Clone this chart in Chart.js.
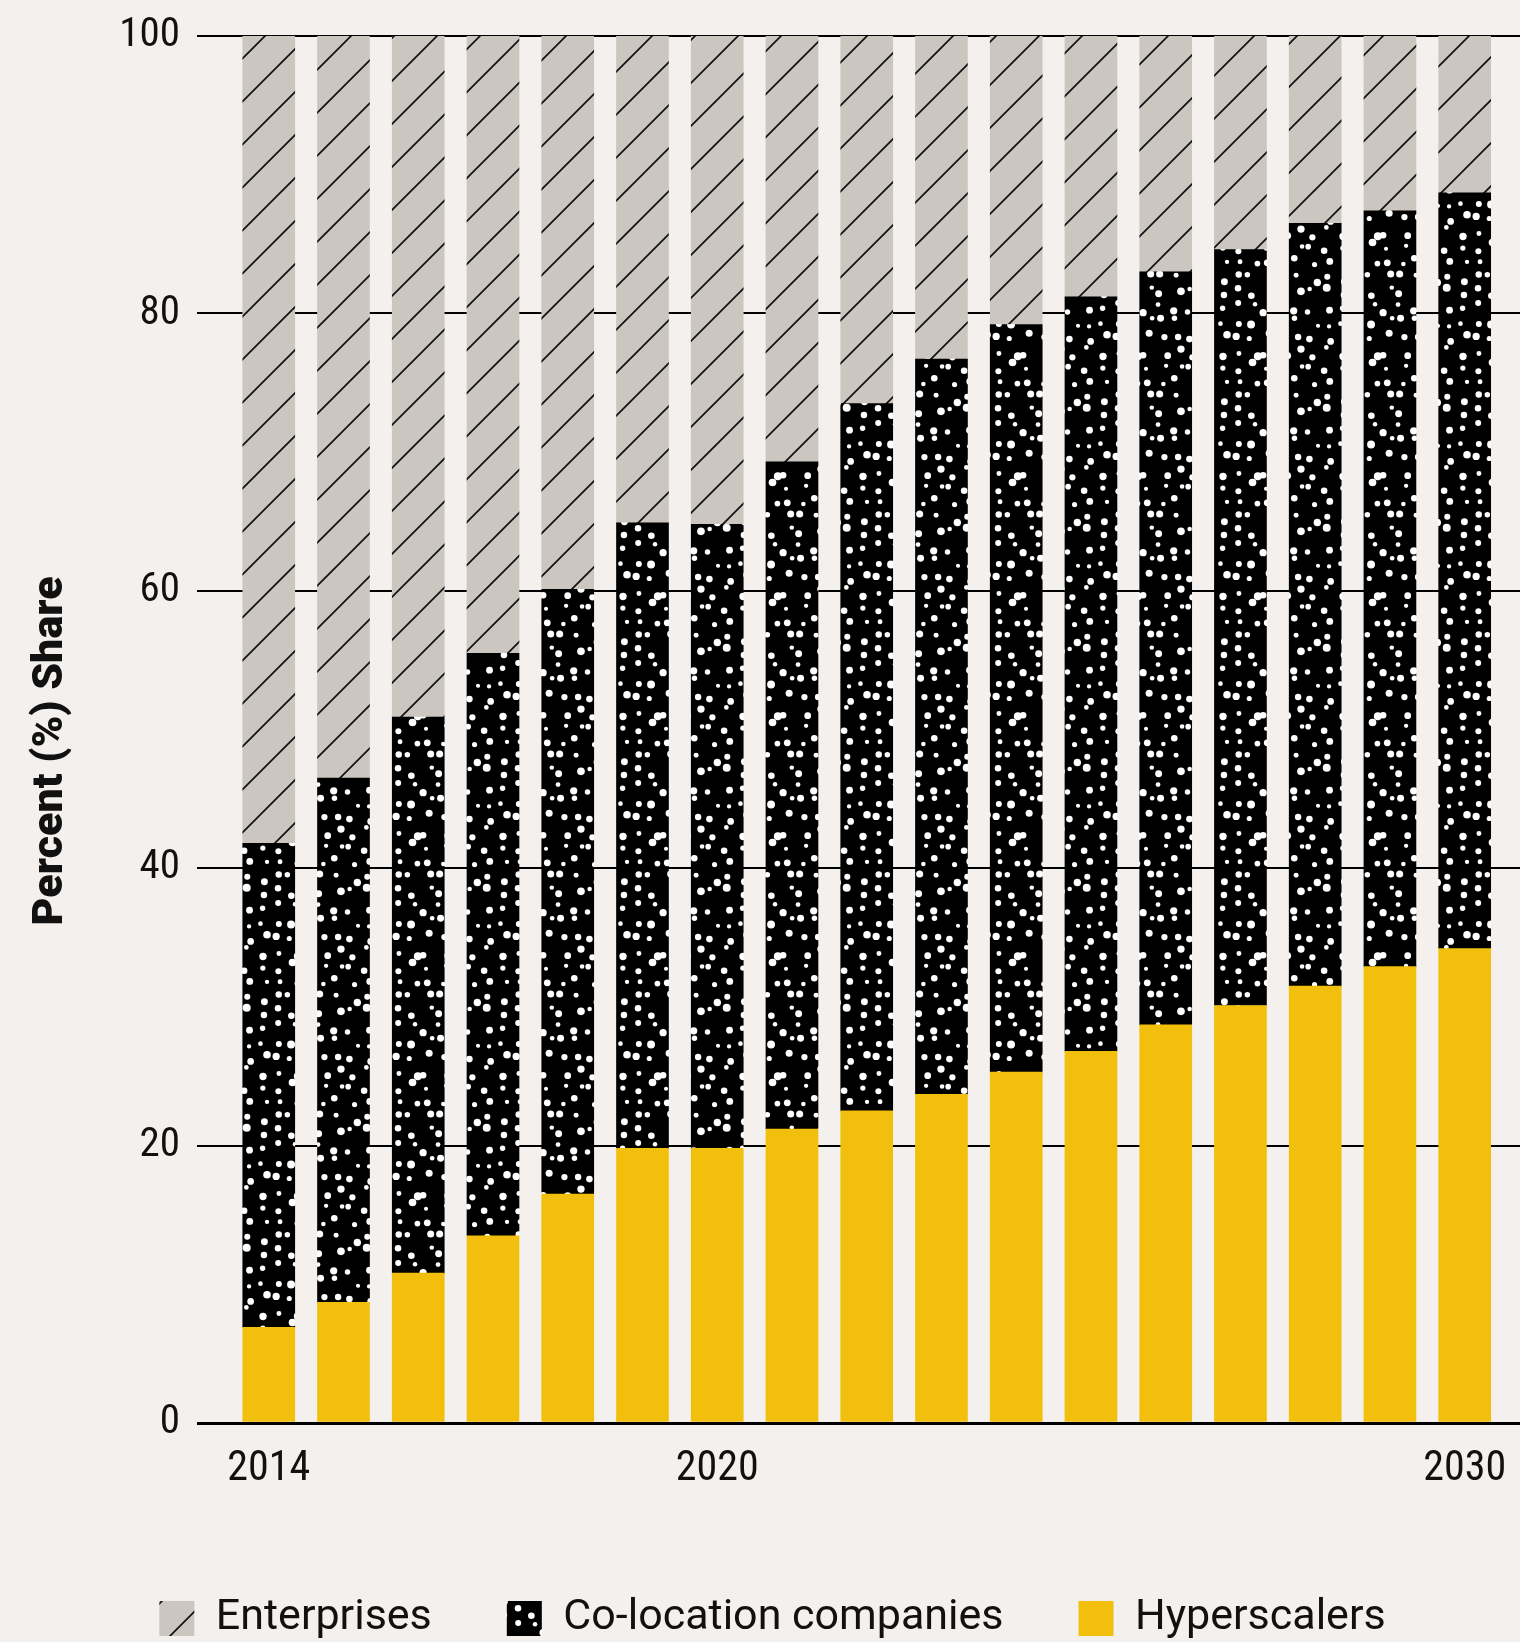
<!DOCTYPE html>
<html>
<head>
<meta charset="utf-8">
<script src="https://cdn.jsdelivr.net/npm/chart.js@4.4.1/dist/chart.umd.min.js"></script>
<style>
  html, body { margin: 0; padding: 0; background: #f3f0ed; }
  #wrap { width: 1520px; height: 1642px; position: relative; }
</style>
</head>
<body>
<div id="wrap"><canvas id="grafico"></canvas></div>
<script>
// datos
const years = [2014, 2015, 2016, 2017, 2018, 2019, 2020, 2021, 2022, 2023, 2024, 2025, 2026, 2027, 2028, 2029, 2030];
const hyperscalers = [6.9, 8.7, 10.8, 13.5, 16.5, 19.8, 19.8, 21.2, 22.5, 23.7, 25.3, 26.8, 28.7, 30.1, 31.5, 32.9, 34.2];
const colocation = [34.9, 37.8, 40.1, 42.0, 43.6, 45.1, 45.0, 48.1, 51.0, 53.0, 53.9, 54.4, 54.3, 54.5, 55.0, 54.5, 54.5];
const enterprises = [58.2, 53.5, 49.1, 44.5, 39.9, 35.1, 35.2, 30.7, 26.5, 23.3, 20.8, 18.8, 17.0, 15.4, 13.5, 12.6, 11.3];
const xTicks = [2014, 2020, 2030];
const yTicks = [0, 20, 40, 60, 80, 100];
const seriesNames = ["Hyperscalers", "Co-location companies", "Enterprises"];

const condensed = "'Roboto Condensed', 'Liberation Sans Narrow', 'DejaVu Sans Condensed', Roboto, sans-serif";

//rayado de Enterprises
const hatch = () => {
  const s = 43;
  const c = document.createElement("canvas");
  c.width = s; c.height = s;
  const g = c.getContext("2d");
  g.fillStyle = "#cbc7c0";
  g.fillRect(0, 0, s, s);
  g.strokeStyle = "#111";
  g.lineWidth = 1.7;
  g.beginPath();
  g.moveTo(-3, s + 3); g.lineTo(s + 3, -3);
  g.moveTo(-3, 3); g.lineTo(3, -3);
  g.moveTo(s - 3, s + 3); g.lineTo(s + 3, s - 3);
  g.stroke();
  return g.createPattern(c, "repeat");
};

//puntos de Co-location (rejilla con desplazamiento)
const dots = () => {
  const s = 120, cell = 15;
  const c = document.createElement("canvas");
  c.width = s; c.height = s;
  const g = c.getContext("2d");
  g.fillStyle = "#000";
  g.fillRect(0, 0, s, s);
  g.fillStyle = "#fff";
  let seed = 24691;
  const next = () => (seed = (seed * 16807) % 2147483647) / 2147483647;
  for (let row = 0; row < s / cell; row++) {
    for (let col = 0; col < s / cell; col++) {
      const x = col * cell + 2 + next() * 11;
      const y = row * cell + 2 + next() * 11;
      const r = 2 + next() * 2;
      for (const dx of [-s, 0, s]) {
        for (const dy of [-s, 0, s]) {
          g.beginPath();
          g.arc(x + dx, y + dy, r, 0, Math.PI * 2);
          g.fill();
        }
      }
    }
  }
  return g.createPattern(c, "repeat");
};

const ctx = document.getElementById("grafico").getContext("2d");
const toPoints = (vals) => years.map((y, i) => ({ x: y, y: vals[i] }));

const datasets = [
  { label: seriesNames[0], data: toPoints(hyperscalers), backgroundColor: "#f2c00c" },
  { label: seriesNames[1], data: toPoints(colocation), backgroundColor: dots() },
  { label: seriesNames[2], data: toPoints(enterprises), backgroundColor: hatch() },
];
datasets.forEach((d) => { d.borderWidth = 0; d.barThickness = 52; });

const chart = new Chart(ctx, {
  type: "bar",
  data: { datasets },
  options: {
    responsive: true,
    maintainAspectRatio: false,
    animation: false,
    layout: { padding: { top: 36, left: 25, right: 0, bottom: -8 } },
    plugins: {
      tooltip: { enabled: false },
      legend: {
        position: "bottom",
        reverse: true,
        labels: {
          boxWidth: 35,
          boxHeight: 35,
          padding: 75,
          color: "#111",
          font: { family: "Roboto", size: 43 },
        },
      },
    },
    scales: {
      x: {
        type: "linear",
        stacked: true,
        offset: false,
        min: 2013.04,
        max: 2030.74,
        grid: { display: false, drawTicks: false },
        border: { display: false },
        afterBuildTicks: (scale) => { scale.ticks = xTicks.map((v) => ({ value: v })); },
        afterFit: (scale) => {
          scale.height = 99;
          scale.paddingLeft = 0;
          scale.paddingRight = 0;
        },
        ticks: {
          padding: 21,
          maxRotation: 0,
          color: "#111",
          font: { family: condensed, size: 42 },
          callback: (v) => String(v),
        },
      },
      y: {
        stacked: true,
        min: 0,
        max: 100,
        afterBuildTicks: (scale) => { scale.ticks = yTicks.map((v) => ({ value: v })); },
        afterFit: (scale) => {
          scale.width = 172;
          scale.paddingTop = 0;
          scale.paddingBottom = 0;
        },
        grid: {
          color: "#000",
          lineWidth: (c) => (c.tick && c.tick.value === 0 ? 3 : 2),
          drawTicks: false,
        },
        border: { display: false },
        ticks: {
          padding: 17,
          color: "#111",
          font: { family: condensed, size: 41 },
        },
        title: {
          display: true,
          text: "Percent (%) Share    ",
          color: "#111",
          padding: { top: 0, bottom: 0 },
          font: { family: "Roboto", size: 43, weight: 900 },
        },
      },
    },
  },
});
</script>
</body>
</html>
